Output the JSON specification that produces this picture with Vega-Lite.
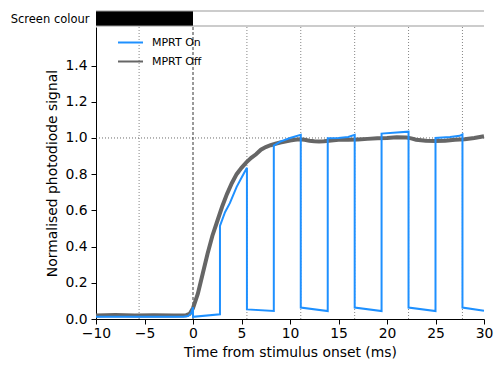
{
  "$schema": "https://vega.github.io/schema/vega-lite/v6.json",
  "autosize": {"type": "pad"},
  "padding": {"left": 10, "top": 10, "right": 5, "bottom": 5},
  "background": "white",
  "spacing": -1,
  "config": {
    "font": "DejaVu Sans",
    "view": {"stroke": null},
    "axis": {
      "labelFont": "DejaVu Sans", "titleFont": "DejaVu Sans",
      "domainColor": "black", "tickColor": "black", "labelColor": "black", "titleColor": "black",
      "labelFontSize": 13.9, "titleFontSize": 13.9, "titleFontWeight": "normal",
      "tickSize": 5, "labelPadding": 4, "grid": false, "domainWidth": 1, "tickWidth": 1, "labelFlush": false
    },
    "legend": {"labelFont": "DejaVu Sans", "labelFontSize": 11, "labelColor": "black", "padding": 0}
  },
  "datasets": {
    "screen": [{"start": -10, "end": 0, "lo": 0, "hi": 1}],
    "borders": [{"start": -10, "end": 30, "yv": 0}, {"start": -10, "end": 30, "yv": 1}],
    "frames": [{"t": -5.556}, {"t": 5.556}, {"t": 11.111}, {"t": 16.667}, {"t": 22.222}, {"t": 27.778}],
    "zero": [{"t": 0, "v": 1.0}],
    "signal": [
      {"series": "MPRT Off", "i": 1, "t": -10, "v": 0.02},
      {"series": "MPRT Off", "i": 2, "t": -8, "v": 0.022},
      {"series": "MPRT Off", "i": 3, "t": -6, "v": 0.019},
      {"series": "MPRT Off", "i": 4, "t": -4, "v": 0.021},
      {"series": "MPRT Off", "i": 5, "t": -2, "v": 0.02},
      {"series": "MPRT Off", "i": 6, "t": -0.7, "v": 0.021},
      {"series": "MPRT Off", "i": 7, "t": -0.35, "v": 0.028},
      {"series": "MPRT Off", "i": 8, "t": 0, "v": 0.06},
      {"series": "MPRT Off", "i": 9, "t": 0.5, "v": 0.14},
      {"series": "MPRT Off", "i": 10, "t": 1, "v": 0.25},
      {"series": "MPRT Off", "i": 11, "t": 1.5, "v": 0.36},
      {"series": "MPRT Off", "i": 12, "t": 2, "v": 0.46},
      {"series": "MPRT Off", "i": 13, "t": 2.5, "v": 0.54},
      {"series": "MPRT Off", "i": 14, "t": 3, "v": 0.62},
      {"series": "MPRT Off", "i": 15, "t": 3.5, "v": 0.69},
      {"series": "MPRT Off", "i": 16, "t": 4, "v": 0.75},
      {"series": "MPRT Off", "i": 17, "t": 4.5, "v": 0.8},
      {"series": "MPRT Off", "i": 18, "t": 5, "v": 0.835},
      {"series": "MPRT Off", "i": 19, "t": 5.5, "v": 0.865},
      {"series": "MPRT Off", "i": 20, "t": 6, "v": 0.89},
      {"series": "MPRT Off", "i": 21, "t": 6.5, "v": 0.91},
      {"series": "MPRT Off", "i": 22, "t": 7, "v": 0.935},
      {"series": "MPRT Off", "i": 23, "t": 7.5, "v": 0.95},
      {"series": "MPRT Off", "i": 24, "t": 8, "v": 0.96},
      {"series": "MPRT Off", "i": 25, "t": 8.5, "v": 0.968},
      {"series": "MPRT Off", "i": 26, "t": 9, "v": 0.975},
      {"series": "MPRT Off", "i": 27, "t": 9.5, "v": 0.98},
      {"series": "MPRT Off", "i": 28, "t": 10, "v": 0.986},
      {"series": "MPRT Off", "i": 29, "t": 10.5, "v": 0.99},
      {"series": "MPRT Off", "i": 30, "t": 11, "v": 0.993},
      {"series": "MPRT Off", "i": 31, "t": 11.5, "v": 0.99},
      {"series": "MPRT Off", "i": 32, "t": 12, "v": 0.985},
      {"series": "MPRT Off", "i": 33, "t": 12.5, "v": 0.982},
      {"series": "MPRT Off", "i": 34, "t": 13, "v": 0.98},
      {"series": "MPRT Off", "i": 35, "t": 13.5, "v": 0.982},
      {"series": "MPRT Off", "i": 36, "t": 14, "v": 0.985},
      {"series": "MPRT Off", "i": 37, "t": 15, "v": 0.99},
      {"series": "MPRT Off", "i": 38, "t": 16, "v": 0.99},
      {"series": "MPRT Off", "i": 39, "t": 17, "v": 0.992},
      {"series": "MPRT Off", "i": 40, "t": 18, "v": 0.995},
      {"series": "MPRT Off", "i": 41, "t": 19, "v": 0.998},
      {"series": "MPRT Off", "i": 42, "t": 20, "v": 1.0},
      {"series": "MPRT Off", "i": 43, "t": 21, "v": 1.004},
      {"series": "MPRT Off", "i": 44, "t": 22, "v": 1.003},
      {"series": "MPRT Off", "i": 45, "t": 22.5, "v": 0.998},
      {"series": "MPRT Off", "i": 46, "t": 23, "v": 0.99},
      {"series": "MPRT Off", "i": 47, "t": 24, "v": 0.985},
      {"series": "MPRT Off", "i": 48, "t": 25, "v": 0.983},
      {"series": "MPRT Off", "i": 49, "t": 26, "v": 0.985},
      {"series": "MPRT Off", "i": 50, "t": 27, "v": 0.99},
      {"series": "MPRT Off", "i": 51, "t": 28, "v": 0.993},
      {"series": "MPRT Off", "i": 52, "t": 29, "v": 1.0},
      {"series": "MPRT Off", "i": 53, "t": 30, "v": 1.01},
      {"series": "MPRT On", "i": 1, "t": -10, "v": 0.012},
      {"series": "MPRT On", "i": 2, "t": -1, "v": 0.012},
      {"series": "MPRT On", "i": 3, "t": -0.5, "v": 0.016},
      {"series": "MPRT On", "i": 4, "t": -0.2, "v": 0.032},
      {"series": "MPRT On", "i": 5, "t": 0, "v": 0.065},
      {"series": "MPRT On", "i": 6, "t": 0, "v": 0.012},
      {"series": "MPRT On", "i": 7, "t": 2.78, "v": 0.026},
      {"series": "MPRT On", "i": 8, "t": 2.78, "v": 0.514},
      {"series": "MPRT On", "i": 9, "t": 3.3, "v": 0.59},
      {"series": "MPRT On", "i": 10, "t": 3.8, "v": 0.64},
      {"series": "MPRT On", "i": 11, "t": 4.5, "v": 0.73},
      {"series": "MPRT On", "i": 12, "t": 5, "v": 0.78},
      {"series": "MPRT On", "i": 13, "t": 5.56, "v": 0.836},
      {"series": "MPRT On", "i": 14, "t": 5.56, "v": 0.053},
      {"series": "MPRT On", "i": 15, "t": 8.33, "v": 0.044},
      {"series": "MPRT On", "i": 16, "t": 8.33, "v": 0.958},
      {"series": "MPRT On", "i": 17, "t": 9, "v": 0.98},
      {"series": "MPRT On", "i": 18, "t": 10, "v": 1.0},
      {"series": "MPRT On", "i": 19, "t": 11.11, "v": 1.017},
      {"series": "MPRT On", "i": 20, "t": 11.11, "v": 0.063},
      {"series": "MPRT On", "i": 21, "t": 13.89, "v": 0.044},
      {"series": "MPRT On", "i": 22, "t": 13.89, "v": 0.998},
      {"series": "MPRT On", "i": 23, "t": 15, "v": 1.0},
      {"series": "MPRT On", "i": 24, "t": 16, "v": 1.005},
      {"series": "MPRT On", "i": 25, "t": 16.67, "v": 1.017},
      {"series": "MPRT On", "i": 26, "t": 16.67, "v": 0.063},
      {"series": "MPRT On", "i": 27, "t": 19.44, "v": 0.044},
      {"series": "MPRT On", "i": 28, "t": 19.44, "v": 1.024},
      {"series": "MPRT On", "i": 29, "t": 21, "v": 1.03},
      {"series": "MPRT On", "i": 30, "t": 22.22, "v": 1.035},
      {"series": "MPRT On", "i": 31, "t": 22.22, "v": 0.063},
      {"series": "MPRT On", "i": 32, "t": 25, "v": 0.044},
      {"series": "MPRT On", "i": 33, "t": 25, "v": 1.0},
      {"series": "MPRT On", "i": 34, "t": 26.5, "v": 1.005},
      {"series": "MPRT On", "i": 35, "t": 27.5, "v": 1.012},
      {"series": "MPRT On", "i": 36, "t": 27.78, "v": 1.02},
      {"series": "MPRT On", "i": 37, "t": 27.78, "v": 0.063},
      {"series": "MPRT On", "i": 38, "t": 30, "v": 0.046}
    ]
  },
  "vconcat": [
    {
      "width": 388, "height": 15,
      "layer": [
        {
          "data": {"name": "screen"},
          "mark": {"type": "rect", "color": "black"},
          "encoding": {
            "x": {"field": "start", "type": "quantitative", "scale": {"domain": [-10, 30], "nice": false}, "axis": null},
            "x2": {"field": "end"},
            "y": {"field": "lo", "type": "quantitative", "scale": {"domain": [0, 1], "nice": false},
                  "axis": {"title": "Screen colour", "labels": false, "ticks": false, "domain": false,
                           "titleAngle": 0, "titleAlign": "right", "titleBaseline": "middle",
                           "titleX": -7, "titleY": 8, "titleFontSize": 11.5}},
            "y2": {"field": "hi"}
          }
        },
        {
          "data": {"name": "borders"},
          "mark": {"type": "rule", "color": "#999999", "strokeWidth": 1},
          "encoding": {
            "x": {"field": "start", "type": "quantitative", "axis": null},
            "x2": {"field": "end"},
            "y": {"field": "yv", "type": "quantitative", "axis": {"title": "Screen colour", "labels": false, "ticks": false, "domain": false,
                           "titleAngle": 0, "titleAlign": "right", "titleBaseline": "middle",
                           "titleX": -7, "titleY": 8, "titleFontSize": 11.5}}
          }
        }
      ]
    },
    {
      "width": 388, "height": 292,
      "encoding": {
        "x": {"field": "t", "type": "quantitative", "scale": {"domain": [-10, 30], "nice": false},
              "axis": {"title": "Time from stimulus onset (ms)", "values": [-10, -5, 0, 5, 10, 15, 20, 25, 30], "format": "d", "labelPadding": 2, "titlePadding": 6}},
        "y": {"field": "v", "type": "quantitative", "scale": {"domain": [0, 1.613], "nice": false, "zero": false},
              "axis": {"title": "Normalised photodiode signal", "values": [0, 0.2, 0.4, 0.6, 0.8, 1.0, 1.2, 1.4], "format": ".1f", "titlePadding": 5}}
      },
      "layer": [
        {
          "data": {"name": "frames"},
          "mark": {"type": "rule", "color": "#666666", "strokeDash": [1, 2], "strokeWidth": 0.8},
          "encoding": {"y": null}
        },
        {
          "data": {"name": "zero"},
          "mark": {"type": "rule", "color": "black", "strokeDash": [3, 2], "strokeWidth": 0.8},
          "encoding": {"y": null}
        },
        {
          "data": {"name": "zero"},
          "mark": {"type": "rule", "color": "#444444", "strokeDash": [1, 2], "strokeWidth": 0.8},
          "encoding": {"x": null}
        },
        {
          "data": {"name": "signal"},
          "transform": [{"filter": "datum.series === 'MPRT Off'"}],
          "mark": {"type": "line", "strokeWidth": 4, "interpolate": "linear"},
          "encoding": {
            "order": {"field": "i", "type": "quantitative"},
            "color": {"field": "series", "type": "nominal",
                      "scale": {"domain": ["MPRT On", "MPRT Off"], "range": ["#1e90ff", "#666666"]},
                      "legend": {"title": null, "orient": "none", "legendX": 21, "legendY": 18,
                                 "symbolType": "stroke", "symbolSize": 625, "symbolStrokeWidth": 2,
                                 "labelOffset": 8, "rowPadding": -5}}
          }
        },
        {
          "data": {"name": "signal"},
          "transform": [{"filter": "datum.series === 'MPRT On'"}],
          "mark": {"type": "line", "strokeWidth": 2, "interpolate": "linear"},
          "encoding": {
            "order": {"field": "i", "type": "quantitative"},
            "color": {"field": "series", "type": "nominal"}
          }
        }
      ]
    }
  ]
}
